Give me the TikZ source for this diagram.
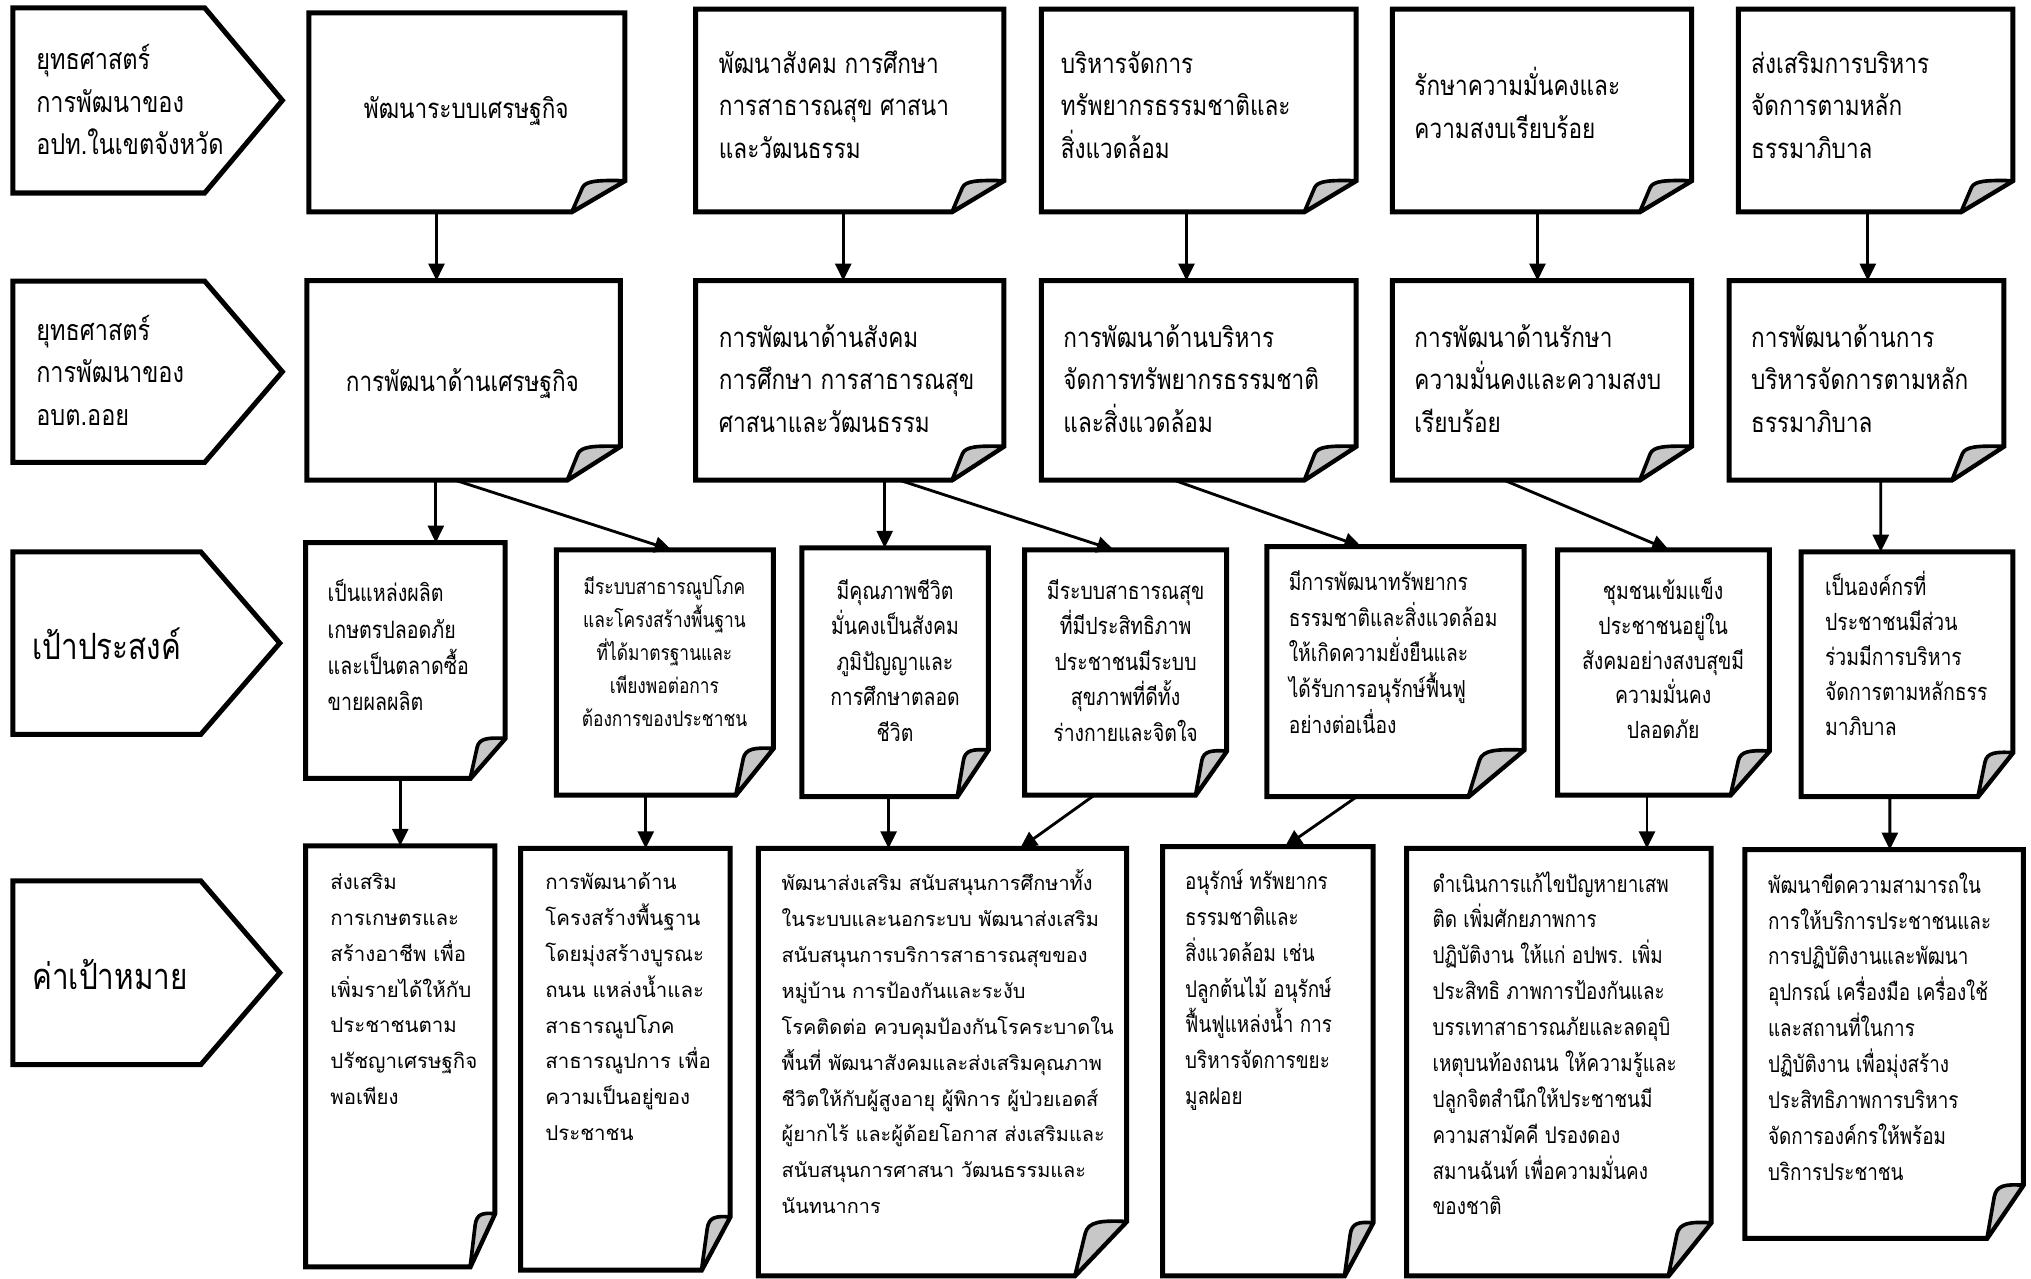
\documentclass[tikz,border=0pt]{standalone}
\usepackage{fontspec}
\setmainfont[Script=Thai]{Loma}
\newfontfamily\thn[Script=Thai,FakeStretch=0.82]{Loma}
\usetikzlibrary{arrows.meta,calc,fit}
\newcommand{\ts}{\rule[-0.4em]{0pt}{1.4em}}
% page box with dog-ear: name, L, T, R, B, foldw, foldh
\newcommand{\pbox}[7]{%
  \node[fit={(#2,#3)(#4,#5)},inner sep=0pt,outer sep=0pt] (#1) {};
  \draw[pline,fill=white] (#1.north west) -- (#1.north east) -- ($(#1.south east)+(0,-#7)$) -- ($(#1.south east)+(-#6,0)$) -- (#1.south west) -- cycle;
  \draw[fline] ($(#1.south east)+(-#6,0)$) -- ($(#1.south east)+({-0.8*#6},{-0.78*#7})$) .. controls ($(#1.south east)+({-0.74*#6},{-1.0*#7})$) and ($(#1.south east)+({-0.5*#6},{-1.02*#7})$) .. ($(#1.south east)+(0,-#7)$) -- cycle;
}
% pentagon: name, L, T, notch x, tip x, B
\newcommand{\pent}[6]{%
  \node[fit={(#2,#3)(#5,#6)},inner sep=0pt,outer sep=0pt] (#1) {};
  \draw[pline,fill=white] (#1.north west) -- (#4,#3) -- (#1.east) -- (#4,#6) -- (#1.south west) -- cycle;
}
\tikzset{
  pline/.style={line width=2.2pt,line join=miter},
  fline/.style={line width=1.6pt,fill=black!22,line join=round},
  arr/.style={line width=1.25pt,-{Triangle[length=7.5pt,width=7pt]}},
  fz/.style 2 args={font=\thn\fontsize{#1}{#2}\selectfont},
  fw/.style 2 args={font=\fontsize{#1}{#2}\selectfont},
  tl/.style={inner sep=0pt,outer sep=0pt,align=left,anchor=west},
  tcn/.style={inner sep=0pt,outer sep=0pt,align=center,anchor=center}
}
\begin{document}
\begin{tikzpicture}[x=0.02cm,y=-0.02cm]
\fill[white] (0,0) rectangle (1568,987);
\useasboundingbox (0,0) rectangle (1568,987);

% ---------- row labels ----------
\pent{P1}{10}{6}{158}{218}{149}
\pent{P2}{10}{217}{158}{218}{357}
\pent{P3}{10}{426}{155}{216}{567}
\pent{P4}{10}{680}{155}{216}{822}
\node[tl,fz={12.6}{18.7}] (P1t) at (28,80) {\ts ยุทธศาสตร์\\\ts การพัฒนาของ\\\ts อปท.ในเขตจังหวัด};
\node[tl,fz={12.6}{18.7}] (P2t) at (28,289) {\ts ยุทธศาสตร์\\\ts การพัฒนาของ\\\ts อบต.ออย};
\node[tl,fz={15.9}{18}] (P3t) at (25,497) {เป้าประสงค์};
\node[tl,fz={15.9}{18}] (P4t) at (25,752) {ค่าเป้าหมาย};

% ---------- row 1 ----------
\pbox{A1}{238.5}{10}{482.5}{163.5}{41}{24}
\pbox{B1}{537}{7}{775}{163.5}{40}{24}
\pbox{C1}{804}{7}{1047}{163.5}{40}{24}
\pbox{D1}{1075}{7}{1306}{163.5}{40}{24}
\pbox{E1}{1342}{7}{1554}{163.5}{40}{24}
\node[tcn,fz={12.1}{18.7}] (A1t) at (360,86) {พัฒนาระบบเศรษฐกิจ};
\node[tl,fz={12.1}{18.7}] (B1t) at (555,83) {\ts พัฒนาสังคม การศึกษา\\\ts การสาธารณสุข ศาสนา\\\ts และวัฒนธรรม};
\node[tl,fz={12.1}{18.7}] (C1t) at (819,83) {\ts บริหารจัดการ\\\ts ทรัพยากรธรรมชาติและ\\\ts สิ่งแวดล้อม};
\node[tl,fz={12.1}{18.7}] (D1t) at (1092,83.5) {\ts รักษาความมั่นคงและ\\\ts ความสงบเรียบร้อย};
\node[tl,fz={12.1}{18.7}] (E1t) at (1352,83) {\ts ส่งเสริมการบริหาร\\\ts จัดการตามหลัก\\\ts ธรรมาภิบาล};

% ---------- row 2 ----------
\pbox{A2}{237}{216.7}{479}{370.6}{41}{26}
\pbox{B2}{537}{216.7}{775}{370.6}{40}{26}
\pbox{C2}{804}{216.7}{1047}{370.6}{40}{26}
\pbox{D2}{1075}{216.7}{1306}{370.6}{40}{26}
\pbox{E2}{1335}{216.7}{1547}{370.6}{40}{26}
\node[tcn,fz={12.1}{18.7}] (A2t) at (357,296) {การพัฒนาด้านเศรษฐกิจ};
\node[tl,fz={12.1}{18.7}] (B2t) at (555,294.5) {\ts การพัฒนาด้านสังคม\\\ts การศึกษา การสาธารณสุข\\\ts ศาสนาและวัฒนธรรม};
\node[tl,fz={12.1}{18.7}] (C2t) at (821,294.5) {\ts การพัฒนาด้านบริหาร\\\ts จัดการทรัพยากรธรรมชาติ\\\ts และสิ่งแวดล้อม};
\node[tl,fz={12.1}{18.7}] (D2t) at (1092,294.5) {\ts การพัฒนาด้านรักษา\\\ts ความมั่นคงและความสงบ\\\ts เรียบร้อย};
\node[tl,fz={12.1}{18.7}] (E2t) at (1352,294.5) {\ts การพัฒนาด้านการ\\\ts บริหารจัดการตามหลัก\\\ts ธรรมาภิบาล};

% ---------- row 3 ----------
\pbox{A3}{236}{419}{390}{601}{27}{31}
\pbox{B3}{429.5}{424.6}{597}{613.8}{29}{36}
\pbox{C3a}{619}{423}{763}{615}{24}{36}
\pbox{C3b}{791}{424.6}{947}{613.8}{24}{34}
\pbox{C3c}{978}{422}{1176.6}{615}{43}{36}
\pbox{D3}{1202.5}{424.6}{1366}{613.8}{30}{34}
\pbox{E3}{1390.6}{426}{1554}{615}{27}{34}
\node[tl,fz={10.5}{15.9}] (A3t) at (253,501) {\ts เป็นแหล่งผลิต\\\ts เกษตรปลอดภัย\\\ts และเป็นตลาดซื้อ\\\ts ขายผลผลิต};
\node[tcn,fz={9.3}{14.5}] (B3t) at (513,505) {\ts มีระบบสาธารณูปโภค\\\ts และโครงสร้างพื้นฐาน\\\ts ที่ได้มาตรฐานและ\\\ts เพียงพอต่อการ\\\ts ต้องการของประชาชน};
\node[tcn,fz={10.4}{15.6}] (C3at) at (691,512) {\ts มีคุณภาพชีวิต\\\ts มั่นคงเป็นสังคม\\\ts ภูมิปัญญาและ\\\ts การศึกษาตลอด\\\ts ชีวิต};
\node[tcn,fz={10.4}{15.6}] (C3bt) at (869,512) {\ts มีระบบสาธารณสุข\\\ts ที่มีประสิทธิภาพ\\\ts ประชาชนมีระบบ\\\ts สุขภาพที่ดีทั้ง\\\ts ร่างกายและจิตใจ};
\node[tl,fz={10.3}{15.7}] (C3ct) at (995,505.5) {\ts มีการพัฒนาทรัพยากร\\\ts ธรรมชาติและสิ่งแวดล้อม\\\ts ให้เกิดความยั่งยืนและ\\\ts ได้รับการอนุรักษ์ฟื้นฟู\\\ts อย่างต่อเนื่อง};
\node[tcn,fz={10.4}{15.3}] (D3t) at (1284,511) {\ts ชุมชนเข้มแข็ง\\\ts ประชาชนอยู่ใน\\\ts สังคมอย่างสงบสุขมี\\\ts ความมั่นคง\\\ts ปลอดภัย};
\node[tl,fz={10.4}{15.3}] (E3t) at (1409,508) {\ts เป็นองค์กรที่\\\ts ประชาชนมีส่วน\\\ts ร่วมมีการบริหาร\\\ts จัดการตามหลักธรร\\\ts มาภิบาล};

% ---------- row 4 ----------
\pbox{A4}{236}{653}{382}{978}{19}{41}
\pbox{B4}{402}{655}{563.6}{980.5}{22}{41}
\pbox{C4a}{585.5}{655}{869.8}{985}{40}{42}
\pbox{C4b}{897.6}{653.7}{1060}{985}{22}{41}
\pbox{D4}{1086}{655}{1321}{985}{33}{41}
\pbox{E4}{1347}{656}{1562}{956}{28}{41}
\node[tl,fw={9}{15.76}] (A4t) at (255,765) {\ts ส่งเสริม\\\ts การเกษตรและ\\\ts สร้างอาชีพ เพื่อ\\\ts เพิ่มรายได้ให้กับ\\\ts ประชาชนตาม\\\ts ปรัชญาเศรษฐกิจ\\\ts พอเพียง};
\node[tl,fw={9}{15.76}] (B4t) at (421,779) {\ts การพัฒนาด้าน\\\ts โครงสร้างพื้นฐาน\\\ts โดยมุ่งสร้างบูรณะ\\\ts ถนน แหล่งน้ำและ\\\ts สาธารณูปโภค\\\ts สาธารณูปการ เพื่อ\\\ts ความเป็นอยู่ของ\\\ts ประชาชน};
\node[tl,fw={8.75}{15.76}] (C4at) at (603.5,807.3) {\ts พัฒนาส่งเสริม สนับสนุนการศึกษาทั้ง\\\ts ในระบบและนอกระบบ พัฒนาส่งเสริม\\\ts สนับสนุนการบริการสาธารณสุขของ\\\ts หมู่บ้าน การป้องกันและระงับ\\\ts โรคติดต่อ ควบคุมป้องกันโรคระบาดใน\\\ts พื้นที่ พัฒนาสังคมและส่งเสริมคุณภาพ\\\ts ชีวิตให้กับผู้สูงอายุ ผู้พิการ ผู้ป่วยเอดส์\\\ts ผู้ยากไร้ และผู้ด้อยโอกาส ส่งเสริมและ\\\ts สนับสนุนการศาสนา วัฒนธรรมและ\\\ts นันทนาการ};
\node[tl,fz={10.1}{15.76}] (C4bt) at (915,764.4) {\ts อนุรักษ์ ทรัพยากร\\\ts ธรรมชาติและ\\\ts สิ่งแวดล้อม เช่น\\\ts ปลูกต้นไม้ อนุรักษ์\\\ts ฟื้นฟูแหล่งน้ำ การ\\\ts บริหารจัดการขยะ\\\ts มูลฝอย};
\node[tl,fz={10.1}{15.76}] (D4t) at (1106,808) {\ts ดำเนินการแก้ไขปัญหายาเสพ\\\ts ติด เพิ่มศักยภาพการ\\\ts ปฏิบัติงาน ให้แก่ อปพร. เพิ่ม\\\ts ประสิทธิ ภาพการป้องกันและ\\\ts บรรเทาสาธารณภัยและลดอุบิ\\\ts เหตุบนท้องถนน ให้ความรู้และ\\\ts ปลูกจิตสำนึกให้ประชาชนมี\\\ts ความสามัคคี ปรองดอง\\\ts สมานฉันท์ เพื่อความมั่นคง\\\ts ของชาติ};
\node[tl,fz={10.1}{15.76}] (E4t) at (1365,795) {\ts พัฒนาขีดความสามารถใน\\\ts การให้บริการประชาชนและ\\\ts การปฏิบัติงานและพัฒนา\\\ts อุปกรณ์ เครื่องมือ เครื่องใช้\\\ts และสถานที่ในการ\\\ts ปฏิบัติงาน เพื่อมุ่งสร้าง\\\ts ประสิทธิภาพการบริหาร\\\ts จัดการองค์กรให้พร้อม\\\ts บริการประชาชน};

% ---------- connectors ----------
\draw[arr] ($(A1.south west)+(98.5,0)$) -- ($(A2.north west)+(100,0)$);
\draw[arr] ($(B1.south west)+(114,0)$) -- ($(B2.north west)+(114,0)$);
\draw[arr] ($(C1.south west)+(112,0)$) -- ($(C2.north west)+(112,0)$);
\draw[arr] ($(D1.south west)+(112,0)$) -- ($(D2.north west)+(112,0)$);
\draw[arr] ($(E1.south west)+(100,0)$) -- ($(E2.north west)+(107,0)$);

\draw[arr] ($(A2.south west)+(99.5,0)$) -- ($(A3.north west)+(100.5,0)$);
\draw[arr] ($(A2.south west)+(114,0)$) -- ($(B3.north west)+(89,0)$);
\draw[arr] ($(B2.south west)+(146,0)$) -- ($(C3a.north west)+(64,0)$);
\draw[arr] ($(B2.south west)+(157,0)$) -- ($(C3b.north west)+(69,0)$);
\draw[arr] ($(C2.south west)+(102,0)$) -- ($(C3c.north west)+(73,0)$);
\draw[arr] ($(D2.south west)+(86,0)$) -- ($(D3.north west)+(86,0)$);
\draw[arr] ($(E2.south west)+(117,0)$) -- ($(E3.north west)+(61.4,0)$);

\draw[arr] ($(A3.south west)+(73,0)$) -- ($(A4.north west)+(73,0)$);
\draw[arr] ($(B3.south west)+(69,0)$) -- ($(B4.north west)+(96.5,0)$);
\draw[arr] ($(C3a.south west)+(67,0)$) -- ($(C4a.north west)+(100.5,0)$);
\draw[arr] ($(C3b.south west)+(54,0)$) -- ($(C4a.north west)+(202,0)$);
\draw[arr] ($(C3c.south west)+(69.6,0)$) -- ($(C4b.north west)+(94.4,0)$);
\draw[arr] ($(D3.south west)+(69,0)$) -- ($(D4.north west)+(185.5,0)$);
\draw[arr] ($(E3.south west)+(68.4,0)$) -- ($(E4.north west)+(112,0)$);
\end{tikzpicture}
\end{document}
